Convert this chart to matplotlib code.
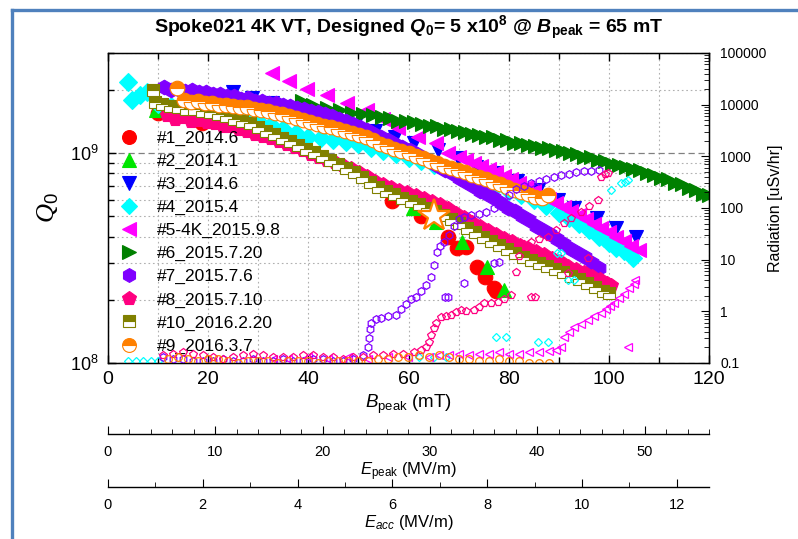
import numpy as np
import matplotlib
matplotlib.use("Agg")
import matplotlib.pyplot as plt
from matplotlib.lines import Line2D
from matplotlib.ticker import MultipleLocator, LogLocator, NullFormatter, FuncFormatter

plt.rcParams.update({
    "font.family": ["Liberation Sans", "DejaVu Sans"],
    "mathtext.fontset": "custom",
    "mathtext.rm": "Liberation Sans",
    "mathtext.it": "Liberation Sans:italic",
    "mathtext.bf": "Liberation Sans:bold:italic",
    "mathtext.sf": "Liberation Sans:bold",
    "mathtext.cal": "Liberation Serif:italic",
})

# ---------------- Q0 vs B_peak (Q0 in units of 1e8) ----------------
b_1 = [10.0, 18.8, 56.8, 62.4, 67.8, 69.6, 71.4, 73.6, 75.2, 77.0, 77.4]
q_1 = [15.6, 13.9, 5.9, 5.0, 3.98, 3.53, 3.57, 2.87, 2.57, 2.27, 2.2]

b_2 = [9.5, 60.8, 65.4, 70.6, 75.6, 79.0]
q_2 = [16.0, 5.5, 4.7, 3.77, 2.86, 2.23]

b_3 = [25.0, 28.8, 32.8, 37.8, 41.6, 45.4, 49.4, 53.4, 57.4, 61.0, 65.8,
       69.8, 73.4, 77.4, 81.6, 85.8, 89.8, 93.0, 97.6, 101.4, 105.4]
q_3 = [19.5, 18.3, 17.3, 16.0, 15.2, 14.4, 13.6, 12.8, 11.9, 11.2, 10.3,
       9.46, 8.57, 8.0, 7.37, 6.67, 5.97, 5.47, 4.9, 4.4, 3.98]

b_4 = [4.0, 4.8, 6.4, 7.8, 10.0, 12.5, 15.0, 17.5, 20.0, 22.5, 25.0, 27.5,
       30.0, 32.5, 35.0, 37.5, 40.0, 42.5, 45.0, 47.5, 50.0, 52.5, 55.0,
       57.5, 60.0, 62.5, 65.0, 67.5, 70.0, 72.5, 75.0, 77.5, 80.0, 82.5,
       85.0, 87.5, 90.0, 92.0, 94.0, 96.0, 98.0, 100.0, 101.5, 103.0, 104.8]
q_4 = [21.8, 17.9, 18.9, 19.5, 17.2, 16.8, 16.6, 16.3, 16.0, 15.7, 15.3, 14.8,
       14.2, 13.6, 13.0, 12.5, 12.0, 11.8, 11.6, 11.3, 11.0, 10.6, 10.2,
       9.9, 9.5, 9.2, 8.8, 8.5, 8.1, 7.7, 7.3, 7.0, 6.6, 6.3,
       6.0, 5.6, 5.2, 4.9, 4.6, 4.3, 4.0, 3.75, 3.55, 3.4, 3.15]

b_5 = [32.8, 36.2, 39.8, 43.8, 47.8, 51.8, 55.0, 58.0, 61.8, 65.4, 67.8,
       70.0, 71.5, 73.0, 74.5, 76.0, 77.5, 79.0, 80.5, 82.0, 83.5, 85.0,
       86.5, 88.0, 89.5, 91.0, 92.5, 94.0, 95.5, 97.0, 98.5, 100.0, 101.5,
       103.0, 104.5, 106.0]
q_5 = [24.0, 22.0, 20.2, 18.9, 17.3, 16.0, 14.6, 13.2, 11.9, 11.2, 10.0,
       9.6, 9.3, 9.0, 8.7, 8.4, 8.1, 7.8, 7.5, 7.2, 6.9, 6.6,
       6.3, 6.05, 5.8, 5.55, 5.3, 5.1, 4.85, 4.6, 4.4, 4.2, 4.0,
       3.8, 3.6, 3.45]

b_6 = [38.8, 41.0, 43.8, 46.4, 48.8, 51.0, 53.0, 54.8, 56.4, 58.0, 59.6,
       61.0, 62.6, 64.2, 65.6, 67.0, 68.4, 69.8, 71.2, 72.6, 74.0, 75.4,
       76.8, 78.2, 79.6, 81.0, 82.4, 83.8, 85.2, 86.6, 88.0, 89.4, 90.8,
       92.2, 93.6, 95.0, 96.4, 97.8, 99.2, 100.6, 102.0, 103.4, 104.8,
       106.2, 107.6, 109.0, 110.4, 111.8, 113.2, 114.6, 116.0, 117.4,
       118.8, 120.0]
q_6 = [17.8, 16.9, 16.4, 16.0, 15.6, 15.4, 15.2, 14.8, 14.7, 14.3, 14.3,
       14.0, 13.8, 13.5, 13.4, 13.1, 13.0, 12.7, 12.6, 12.3, 12.2, 11.9,
       11.9, 11.6, 11.5, 11.2, 11.2, 10.9, 10.8, 10.6, 10.6, 10.3, 10.2,
       10.0, 9.9, 9.6, 9.6, 9.3, 9.2, 8.9, 8.8, 8.6, 8.4,
       8.3, 8.0, 7.9, 7.6, 7.5, 7.2, 7.1, 6.8, 6.7,
       6.4, 6.3]

b_7 = [11.2, 12.6, 14.0, 15.4, 16.8, 18.2, 19.6, 21.0, 22.4, 23.8, 25.2,
       26.6, 28.0, 29.4, 30.8, 32.2, 33.6, 35.0, 36.4, 37.8, 39.2, 40.6,
       42.0, 43.4, 44.8, 46.2, 47.6, 49.0, 50.4, 51.8, 53.2, 54.6, 56.0,
       57.4, 58.8, 60.2, 61.6, 63.0, 64.4, 65.8, 67.2, 68.6, 70.0, 71.4,
       72.8, 74.2, 75.6, 77.0, 78.4, 79.8, 81.2, 82.6, 84.0, 85.4, 86.8,
       88.2, 89.6, 91.0, 92.4, 93.8, 95.2, 96.6, 98.0]
q_7 = [20.6, 20.0, 20.3, 19.8, 20.0, 19.5, 19.6, 19.1, 19.2, 18.7, 18.7,
       18.2, 18.3, 17.8, 17.7, 17.3, 17.3, 16.9, 16.8, 16.4, 16.3, 15.9,
       15.7, 15.3, 15.0, 14.6, 14.2, 13.8, 13.3, 12.9, 12.4, 12.0, 11.5,
       11.1, 10.7, 10.3, 9.9, 9.5, 9.1, 8.7, 8.3, 8.0, 7.6, 7.3,
       7.0, 6.6, 6.4, 6.1, 5.8, 5.5, 5.3, 5.0, 4.8, 4.5, 4.3,
       4.1, 3.9, 3.7, 3.5, 3.35, 3.2, 3.0, 2.85]

b_8 = [11.8, 13.4, 15.0, 16.6, 18.2, 19.8, 21.4, 23.0, 24.6, 26.2, 27.8,
       29.4, 31.0, 32.6, 34.2, 35.8, 37.4, 39.0, 40.6, 42.2, 43.8, 45.4,
       47.0, 48.6, 50.2, 51.8, 53.4, 55.0, 56.6, 58.2, 59.8, 61.4, 63.0,
       64.6, 66.2, 67.8, 69.4, 71.0, 72.6, 74.2, 75.8, 77.4, 79.0, 80.6,
       82.2, 83.8, 85.4, 87.0, 88.6, 90.2, 91.8, 93.4, 95.0, 96.6, 98.2,
       99.6, 100.4]
q_8 = [15.2, 14.6, 14.8, 14.3, 14.4, 14.0, 13.9, 13.5, 13.4, 13.0, 12.8,
       12.4, 12.1, 11.8, 11.4, 11.1, 10.7, 10.3, 9.9, 9.6, 9.3, 9.1,
       8.8, 8.5, 8.1, 7.8, 7.4, 7.1, 6.9, 6.7, 6.5, 6.3, 6.1,
       5.9, 5.7, 5.45, 5.2, 4.95, 4.7, 4.5, 4.3, 4.1, 3.95, 3.8,
       3.65, 3.55, 3.4, 3.3, 3.15, 3.05, 2.9, 2.8, 2.7, 2.6, 2.5,
       2.4, 2.35]

b_10 = [9.0, 9.4, 10.8, 12.4, 14.0, 15.6, 17.2, 18.8, 20.4, 22.0, 23.6,
        25.2, 26.8, 28.4, 30.0, 31.6, 33.2, 34.8, 36.4, 38.0, 39.6, 41.2,
        42.8, 44.4, 46.0, 47.6, 49.2, 50.8, 52.4, 54.0, 55.6, 57.2, 58.8,
        60.4, 62.0, 63.6, 65.2, 66.8, 68.4, 70.0, 71.6, 73.2, 74.8, 76.4,
        78.0, 79.6, 81.2, 82.8, 84.4, 86.0, 87.6, 89.2, 90.8, 92.4, 94.0,
        95.6, 97.2, 98.8, 100.0]
q_10 = [20.0, 17.6, 17.2, 16.7, 16.6, 16.2, 16.2, 15.8, 15.7, 15.3, 15.0,
        14.6, 14.2, 13.9, 13.3, 12.8, 12.3, 11.8, 11.4, 10.9, 10.5, 10.1,
        9.7, 9.3, 8.9, 8.5, 8.1, 7.7, 7.3, 6.9, 6.6, 6.4, 6.1,
        5.9, 5.7, 5.5, 5.3, 5.1, 4.85, 4.65, 4.4, 4.2, 4.0, 3.8,
        3.65, 3.5, 3.35, 3.2, 3.1, 3.0, 2.9, 2.8, 2.7, 2.6, 2.5,
        2.4, 2.3, 2.2, 2.15]

b_9 = [13.8, 15.2, 16.6, 18.0, 19.4, 20.8, 22.2, 23.6, 25.0, 26.4, 27.8,
       29.2, 30.6, 32.0, 33.4, 34.8, 36.2, 37.6, 39.0, 40.4, 41.8, 43.2,
       44.6, 46.0, 47.4, 48.8, 50.2, 51.6, 53.0, 54.4, 55.8, 57.2, 58.6,
       60.0, 61.4, 62.8, 64.2, 65.6, 67.0, 68.4, 69.8, 71.2, 72.6, 74.0,
       75.4, 76.8, 78.2, 79.6, 81.0, 82.4, 83.8, 85.2, 86.6, 87.8]
q_9 = [20.4, 17.9, 17.6, 17.7, 17.4, 17.3, 17.0, 17.0, 16.8, 16.6, 16.5,
       16.2, 16.0, 15.8, 15.5, 15.3, 15.0, 14.7, 14.4, 14.1, 13.8, 13.5,
       13.3, 13.0, 12.7, 12.5, 12.2, 11.9, 11.5, 11.1, 10.8, 10.5, 10.2,
       10.0, 9.7, 9.5, 9.2, 9.0, 8.7, 8.5, 8.3, 8.1, 7.9, 7.7,
       7.5, 7.3, 7.1, 6.9, 6.7, 6.5, 6.4, 6.2, 6.1, 6.3]

# design goal
b_design = [65.0]
q_design = [5.0]

# ---------------- radiation vs B_peak (uSv/hr) ----------------
rb_4 = [4.0, 5.5, 7.0, 8.5, 10.0, 62.0, 65.0, 67.5, 77.4, 79.4, 85.8, 87.8,
        89.6, 90.5, 91.8, 93.0, 99.0, 100.4, 102.4, 103.2, 103.8]
rr_4 = [0.11, 0.11, 0.11, 0.11, 0.11, 0.13, 0.13, 0.13, 0.32, 0.32, 0.25, 0.25,
        13.5, 13.5, 4.0, 4.0, 21.0, 220.0, 300.0, 320.0, 350.0]

rb_5 = [33.0, 36.0, 40.0, 44.0, 48.0, 52.0, 56.0, 60.0, 64.0, 66.0, 68.0,
        70.0, 72.0, 74.0, 76.0, 78.0, 80.0, 82.0, 84.0, 86.0, 88.0, 89.5,
        90.4, 91.0, 92.0, 93.0, 94.5, 95.8, 97.0, 98.4, 99.5, 100.3, 101.0,
        102.0, 103.0, 104.0, 105.0, 105.3, 103.8]
rr_5 = [0.12, 0.12, 0.13, 0.12, 0.13, 0.12, 0.13, 0.13, 0.13, 0.14, 0.14,
        0.15, 0.14, 0.15, 0.15, 0.16, 0.15, 0.15, 0.16, 0.16, 0.17, 0.18,
        0.2, 0.32, 0.4, 0.49, 0.58, 0.68, 0.8, 0.93, 1.1, 1.25, 1.45,
        1.8, 2.2, 2.8, 3.4, 4.0, 0.2]

rb_7 = [11.0, 13.0, 15.0, 17.0, 19.0, 21.0, 23.0, 25.0, 27.0, 29.0, 31.0,
        33.0, 35.0, 37.0, 39.0, 41.0, 43.0, 45.0, 47.0, 49.0, 51.0, 52.0,
        52.2, 52.4, 52.6, 53.5, 54.5, 56.0, 57.5, 58.5, 59.5, 60.5, 61.5,
        62.5, 63.5, 64.4, 65.0, 65.6, 66.2, 67.0, 68.0, 69.0, 70.0, 71.0,
        72.5, 74.0, 75.5, 77.0, 78.5, 80.0, 81.5, 83.0, 84.5, 86.0, 87.5,
        89.0, 90.5, 92.0, 93.5, 95.0, 96.5, 98.0, 67.2, 67.8, 71.0, 77.0, 78.0]
rr_7 = [0.13, 0.12, 0.12, 0.11, 0.11, 0.11, 0.12, 0.11, 0.11, 0.12, 0.11,
        0.11, 0.12, 0.11, 0.11, 0.12, 0.12, 0.11, 0.11, 0.12, 0.14, 0.2,
        0.3, 0.45, 0.6, 0.7, 0.75, 0.8, 0.85, 1.1, 1.4, 1.7, 1.9,
        2.5, 3.3, 4.6, 8.0, 14.0, 18.0, 22.0, 30.0, 45.0, 60.0, 68.0,
        72.0, 78.0, 85.0, 100.0, 130.0, 180.0, 230.0, 270.0, 300.0, 330.0, 360.0,
        400.0, 430.0, 460.0, 490.0, 510.0, 530.0, 550.0, 1.9, 1.9, 3.5, 8.5, 9.0]

rb_8 = [11.0, 13.0, 15.0, 17.0, 19.0, 21.0, 23.0, 25.0, 27.0, 29.0, 31.0,
        33.0, 35.0, 37.0, 39.0, 41.0, 43.0, 45.0, 47.0, 49.0, 51.0, 53.0,
        55.0, 57.0, 59.0, 61.0, 62.5, 63.5, 64.0, 64.5, 65.0, 65.5, 66.4,
        67.5, 68.5, 69.5, 70.4, 71.5, 73.0, 74.0, 75.0, 76.5, 77.8, 79.0,
        80.4, 81.4, 82.0, 83.0, 84.4, 85.2, 84.5, 86.0, 87.8, 89.5, 91.0,
        91.8, 92.5, 94.4, 95.8, 96.0, 97.8, 98.4, 99.2, 99.8]
rr_8 = [0.14, 0.15, 0.16, 0.15, 0.14, 0.13, 0.12, 0.13, 0.14, 0.15, 0.14,
        0.13, 0.13, 0.13, 0.14, 0.14, 0.13, 0.13, 0.12, 0.13, 0.13, 0.14,
        0.14, 0.15, 0.15, 0.16, 0.18, 0.2, 0.25, 0.35, 0.48, 0.6, 0.78,
        0.82, 0.85, 0.95, 1.06, 1.0, 1.06, 1.2, 1.45, 1.45, 1.5, 1.7,
        2.07, 5.8, 12.0, 20.0, 1.9, 1.9, 22.0, 25.0, 27.0, 38.0, 51.0,
        5.5, 65.0, 83.0, 11.0, 110.0, 142.0, 400.0, 450.0, 480.0]

rb_9 = [12.0, 14.0, 16.0, 18.0, 20.0, 22.0, 24.0, 26.0, 28.0, 30.0, 32.0,
        34.0, 36.0, 38.0, 40.0, 42.0, 44.0, 46.0, 48.0, 50.0, 52.0, 54.0,
        56.0, 58.0, 60.0, 62.0, 64.0, 66.0, 68.0, 70.0, 72.0, 74.0, 76.0,
        78.0, 80.0, 82.0, 84.0, 86.0, 88.0]
rr_9 = [0.12, 0.13, 0.12, 0.11, 0.12, 0.12, 0.11, 0.1, 0.11, 0.11, 0.11,
        0.1, 0.11, 0.11, 0.11, 0.1, 0.11, 0.11, 0.11, 0.11, 0.11, 0.12,
        0.12, 0.13, 0.13, 0.14, 0.13, 0.14, 0.13, 0.12, 0.12, 0.11, 0.11,
        0.12, 0.11, 0.11, 0.1, 0.1, 0.1]

# ---------------- figure ----------------
fig = plt.figure(figsize=(7.98, 5.39), dpi=100)
L, R_, B_, T_ = 108 / 798, 709 / 798, 1 - 363 / 539, 1 - 53 / 539
ax = fig.add_axes([L, B_, R_ - L, T_ - B_])
ax.set_xlim(0, 120)
ax.set_yscale("log")
ax.set_ylim(1e8, 3e9)

E8 = 1e8
ms = 10.5
filled = [
    ("#1_2014.6", b_1, q_1, dict(marker="o", color="#FF0000")),
    ("#2_2014.1", b_2, q_2, dict(marker="^", color="#00E600")),
    ("#3_2014.6", b_3, q_3, dict(marker="v", color="#0000FF")),
    ("#4_2015.4", b_4, q_4, dict(marker="D", color="#00FFFF", markersize=9)),
    ("#5-4K_2015.9.8", b_5, q_5, dict(marker="<", color="#FF00FF")),
    ("#6_2015.7.20", b_6, q_6, dict(marker=">", color="#008000")),
    ("#7_2015.7.6", b_7, q_7, dict(marker="h", color="#8000FF")),
    ("#8_2015.7.10", b_8, q_8, dict(marker="p", color="#FF0080")),
    ("#10_2016.2.20", b_10, q_10, dict(marker="s", color="#808000", fillstyle="top",
                                       markerfacecoloralt="white", markersize=9)),
    ("#9_2016.3.7", b_9, q_9, dict(marker="o", color="#FF8000", fillstyle="top",
                                   markerfacecoloralt="white")),
]
handles = []
for label, bx, qy, st in filled:
    kw = dict(linestyle="none", markersize=ms, markeredgewidth=0.8)
    kw.update(st)
    h, = ax.plot(bx, np.array(qy) * E8, label=label, **kw)
    handles.append(h)

ax.plot(b_design, np.array(q_design) * E8, linestyle="none", marker="*",
        markersize=24, markerfacecolor="white", markeredgecolor="#FF8000",
        markeredgewidth=1.6, zorder=5)

# radiation on the right-hand axis
ax2 = ax.twinx()
ax2.set_yscale("log")
ax2.set_ylim(0.1, 1e5)
ax2.set_xlim(0, 120)
rad = [
    (rb_4, rr_4, dict(marker="D", color="#00FFFF", markersize=4.5)),
    (rb_5, rr_5, dict(marker="<", color="#FF00FF")),
    (rb_7, rr_7, dict(marker="h", color="#8000FF")),
    (rb_8, rr_8, dict(marker="p", color="#FF0080")),
    (rb_9, rr_9, dict(marker="o", color="#FF8000")),
]
for bx, ry, st in rad:
    kw = dict(linestyle="none", markersize=5.5, markeredgewidth=0.9,
              markerfacecolor="none")
    kw.update(st)
    ax2.plot(bx, ry, **kw)

# ticks, grid and labels of the main axes
ax.xaxis.set_major_locator(MultipleLocator(20))
ax.xaxis.set_minor_locator(MultipleLocator(10))
ax.yaxis.set_minor_locator(LogLocator(base=10, subs=np.arange(2, 10)))
ax.yaxis.set_minor_formatter(NullFormatter())
ax.tick_params(axis="both", which="both", direction="in", top=True, right=False,
               colors="black")
ax.tick_params(axis="both", which="major", length=6, width=1.0)
ax.tick_params(axis="both", which="minor", length=4, width=1.0)
ax.tick_params(axis="x", labelsize=14, pad=6)
ax.tick_params(axis="y", labelsize=13, pad=7)
ax.grid(True, axis="x", which="both", linestyle=(0, (1.5, 2.5)), color="#B0B0B0",
        linewidth=0.8)
ax.grid(True, axis="y", which="minor", linestyle=(0, (1.5, 2.5)), color="#B0B0B0",
        linewidth=0.8)
ax.grid(True, axis="y", which="major", linestyle=(0, (5, 3)), color="#808080",
        linewidth=0.9)
ax.set_axisbelow(True)
for s in ax.spines.values():
    s.set_linewidth(1.0)

ax.set_xlabel(r"$B_{\mathrm{peak}}$ (mT)", fontsize=13.5, labelpad=3)
ax.set_ylabel(r"$\mathcal{Q}_{0}$", fontsize=19, labelpad=6)

ax2.yaxis.set_minor_locator(LogLocator(base=10, subs=np.arange(2, 10)))
ax2.yaxis.set_minor_formatter(NullFormatter())
ax2.yaxis.set_major_formatter(FuncFormatter(lambda v, p: f"{v:g}"))
ax2.tick_params(axis="y", which="both", direction="in", labelsize=10, pad=8)
ax2.tick_params(axis="y", which="major", length=6)
ax2.tick_params(axis="y", which="minor", length=3.5)
ax2.set_ylabel("Radiation [uSv/hr]", fontsize=11.5)
ax2.yaxis.set_label_coords((768 - 108) / 601, 0.5)

leg = ax.legend(handles=handles, loc="upper left", bbox_to_anchor=(0.018, 0.75),
                frameon=False, fontsize=12.5, borderpad=0, borderaxespad=0,
                handlelength=1.2, handletextpad=1.0, labelspacing=0.45,
                markerscale=0.95)
leg.set_zorder(20)

ax.set_title(r"Spoke021 4K VT, Designed $\mathbf{Q}_{\mathsf{0}}$= 5 x10$^{\mathsf{8}}$"
             r" @ $\mathbf{B}_{\mathsf{peak}}$ = 65 mT",
             fontsize=14, fontweight="bold", pad=14)

# additional field scales under the plot
def scale_axis(ypix, vmax, major, minor, label):
    sa = fig.add_axes([L, 1 - ypix / 539, R_ - L, 1e-5])
    sa.set_xlim(0, vmax)
    sa.set_yticks([])
    for k in ("left", "right", "top"):
        sa.spines[k].set_visible(False)
    sa.spines["bottom"].set_linewidth(1.0)
    sa.set_facecolor("none")
    sa.xaxis.set_major_locator(MultipleLocator(major))
    sa.xaxis.set_minor_locator(MultipleLocator(minor))
    sa.tick_params(axis="x", which="both", direction="in", pad=8, labelsize=10.5)
    sa.tick_params(axis="x", which="major", length=6)
    sa.tick_params(axis="x", which="minor", length=3.5)
    sa.set_xlabel(label, fontsize=12, labelpad=1)
    return sa

scale_axis(434, 56.0, 10, 2, r"$E_{\mathrm{peak}}$ (MV/m)")
scale_axis(487, 12.68, 2, 1, r"$E_{acc}$ (MV/m)")

# slide frame
frame = "#4F81BD"
fig.add_artist(Line2D([12 / 798, 1.0], [1 - 10 / 539, 1 - 10 / 539],
                      transform=fig.transFigure, color=frame, linewidth=2.4))
fig.add_artist(Line2D([12 / 798, 12 / 798], [0.0, 1 - 10 / 539],
                      transform=fig.transFigure, color=frame, linewidth=2.4))

fig.savefig("out.png", dpi=100)
